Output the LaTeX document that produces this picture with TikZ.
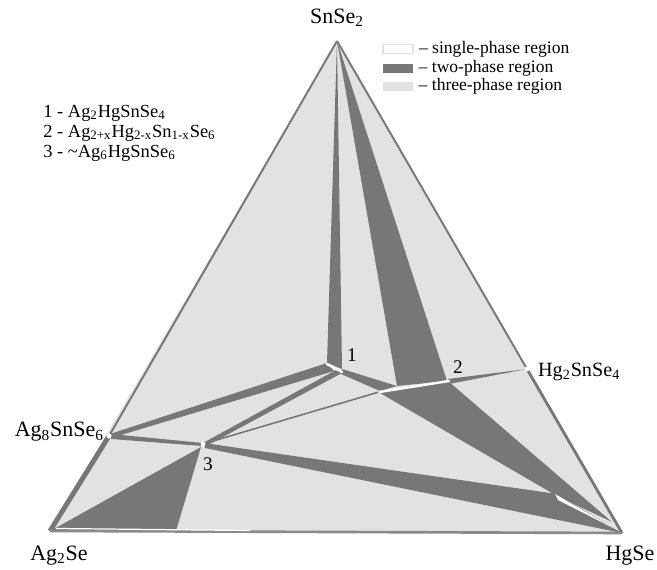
\documentclass[tikz,border=0pt]{standalone}
\usepackage{fontspec}
\setmainfont{Liberation Serif}
\usepackage{xcolor}
\usepackage{tikz}
\usetikzlibrary{positioning}

\definecolor{tres}{HTML}{E2E2E2}
\definecolor{dos}{HTML}{777777}
\definecolor{borde}{HTML}{8A8A8A}
\newcommand{\sbs}[1]{\textsubscript{#1}}

\begin{document}
\begin{tikzpicture}[x=0.02cm, y=-0.02cm, line join=round,
  vert/.style={font=\fontsize{12.5}{14}\selectfont, inner sep=1pt},
  num/.style={font=\fontsize{11}{12}\selectfont, inner sep=0pt},
  leg/.style={font=\fontsize{10}{12}\selectfont, inner sep=0pt},
  legbox/.style={minimum width=0.6cm, minimum height=0.18cm, inner sep=0pt},
  cmp/.style={font=\fontsize{10.5}{12}\selectfont, inner sep=0pt},
  two/.style={fill=dos},
  one/.style={draw=white, line width=1.4pt, line cap=round}]
\useasboundingbox (0,0) rectangle (657,570);

% Puntos
\coordinate (snse) at (337,41);
\coordinate (agse) at (50,531);
\coordinate (hgse) at (622,533);
\coordinate (agsnse) at (109,436);
\coordinate (hgsnse) at (527,369);
\coordinate (p1) at (336,368);
\coordinate (p2a) at (379,392);
\coordinate (p2b) at (449,381);
\coordinate (p3) at (203,444);

% Region de tres fases
\fill[tres] (snse) -- (hgse) -- (agse) -- cycle;

% Regiones de dos fases
\fill[two] (snse) -- (342,369) -- (327,363) -- cycle;
\fill[two] (snse) -- (447,381) -- (397,386) -- cycle;
\fill[two] (342,369) -- (397,386) -- (380,391) -- (341,374) -- cycle;
\fill[two] (448,379) -- (hgsnse) -- (449,384) -- cycle;
\fill[two] (448,381) -- (612,522) -- (557,496) -- (380,393) -- cycle;
\fill[two] (204,443) -- (557,494) -- (hgse) -- (205,448) -- cycle;
\fill[two] (110,434) -- (327,363) -- (334,371) -- (111,438) -- cycle;
\fill[two] (203,443) -- (336,370) -- (342,373) -- (208,445) -- cycle;
\fill[two] (111,434) -- (203,443) -- (202,446) -- (111,439) -- cycle;
\fill[two] (52,530) -- (201,447) -- (176,531) -- cycle;
\draw[dos, line width=0.9pt] (p3) -- (p2a);

% Lados
\draw[dos, line width=1.1pt] (snse) -- (agsnse);
\draw[dos, line width=2.8pt] (agsnse) -- (agse);
\draw[dos, line width=1.1pt] (snse) -- (hgsnse);
\draw[dos, line width=1.6pt] (hgsnse) -- (hgse);
\draw[borde, line width=1.5pt] (agse) -- (hgse);

% Regiones de una fase
\draw[one] (327,364) -- (342,372);
\draw[one] (p2a) -- (p2b);
\draw[white, line width=0.7pt] (56,528.5) -- (250,530.5);
\fill[white] (555,494) -- (619,531) -- (558,500) -- cycle;
\fill[white] (agsnse) circle (2.6);
\fill[white] (hgsnse) circle (2.4);
\fill[white] (p3) circle (2.4);

% Etiquetas
\node[vert, above=0.25cm of snse] (lsn) {SnSe\sbs{2}};
\node[vert, below=0.25cm of agse, xshift=0.18cm] (lag) {Ag\sbs{2}Se};
\node[vert, below=0.21cm of hgse, xshift=0.16cm] (lhg) {HgSe};
\node[vert, left=0.06cm of agsnse, yshift=0.08cm] (lagsn) {Ag\sbs{8}SnSe\sbs{6}};
\node[vert, font=\fontsize{11.5}{13}\selectfont, right=0.18cm of hgsnse, yshift=-0.06cm] (lhgsn) {Hg\sbs{2}SnSe\sbs{4}};
\node[num] (n1) at (352,355) {1};
\node[num] (n2) at (458,367) {2};
\node[num] (n3) at (208,464) {3};

% Compuestos
\node[cmp, anchor=west] (c1) at (43,113) {1 - Ag\sbs{2}HgSnSe\sbs{4}};
\node[cmp, below=0.4cm of c1.west, anchor=west] (c2) {2 - Ag\sbs{2+x}Hg\sbs{2-x}Sn\sbs{1-x}Se\sbs{6}};
\node[cmp, below=0.4cm of c2.west, anchor=west] (c3) {3 - \textasciitilde Ag\sbs{6}HgSnSe\sbs{6}};

% Leyenda
\node[legbox, fill=white, draw=tres, line width=0.8pt] (b1) at (398,49) {};
\node[legbox, fill=dos, below=0.18cm of b1] (b2) {};
\node[legbox, fill=tres, below=0.18cm of b2] (b3) {};
\node[leg, right=0.1cm of b1] (t1) {-- single-phase region};
\node[leg, right=0.1cm of b2] (t2) {-- two-phase region};
\node[leg, right=0.1cm of b3] (t3) {-- three-phase region};
\end{tikzpicture}
\end{document}
